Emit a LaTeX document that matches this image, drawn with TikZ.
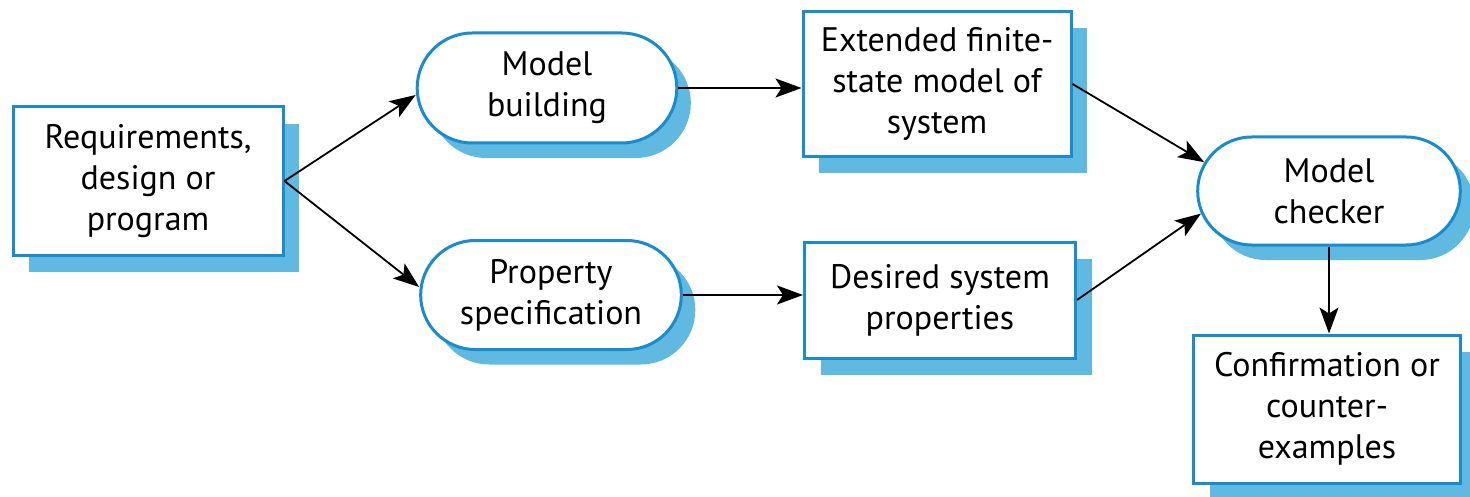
\documentclass[tikz,border=0pt]{standalone}
\usepackage{fontspec}
\setmainfont{PT Sans}
\usepackage{tikz}
\usetikzlibrary{shapes.misc, arrows.meta, positioning, shadows}
\definecolor{edgeblue}{RGB}{25,140,205}
\definecolor{shadeblue}{RGB}{95,185,225}
\tikzstyle{arrow} = [line width=0.9pt, ->, >={Stealth[length=13pt, width=9.5pt, inset=3pt]}, black]

\begin{document}
\begin{tikzpicture}[
    x=0.5pt, y=-0.5pt,
    font=\fontsize{17}{20.5}\selectfont,
    databox/.style={rectangle, draw=edgeblue, line width=1.5pt, fill=white, align=center,
        drop shadow={shadow xshift=8pt, shadow yshift=-8.5pt, fill=shadeblue, opacity=1}},
    activity/.style={rounded rectangle, draw=edgeblue, line width=1.5pt, fill=white, align=center,
        drop shadow={shadow xshift=7pt, shadow yshift=-7.5pt, fill=shadeblue, opacity=1}},
]

\useasboundingbox (0, 0) rectangle (1470, 497);

% Input
\node[databox, minimum width=135pt, minimum height=74pt] (req) at (148, 181) {Requirements,\\design or\\program};

% Activities
\node[activity, minimum width=136.5pt, minimum height=55pt] (build) at (547, 88) {Model\\building};
\node[activity, minimum width=137pt, minimum height=54.5pt] (prop) at (551, 295) {Property\\specification};

% Models
\node[databox, minimum width=134pt, minimum height=72.5pt] (efsm) at (937, 84) {Extended finite-\\state model of\\system};
\node[databox, minimum width=135.5pt, minimum height=58pt] (desired) at (940, 300) {Desired system\\properties};

% Checker and result
\node[activity, minimum width=138pt, minimum height=54pt] (checker) at (1329, 191) {Model\\checker};
\node[databox, minimum width=133.5pt, minimum height=74pt] (confirm) at (1327, 409) {Confirmation or\\counter-\\examples};

% Connectors
\draw[arrow] (req.east) -- ([yshift=-3.5pt]build.west);
\draw[arrow] (req.east) -- ([yshift=4pt]prop.west);
\draw[arrow] (build.east) -- (build.east -| efsm.west);
\draw[arrow] (prop.east) -- (prop.east -| desired.west);
\draw[arrow] (efsm.east) -- (checker.167);
\draw[arrow] (desired.east) -- (checker.190);
\draw[arrow] (checker.south) -- (checker.south |- confirm.north);

\end{tikzpicture}
\end{document}
